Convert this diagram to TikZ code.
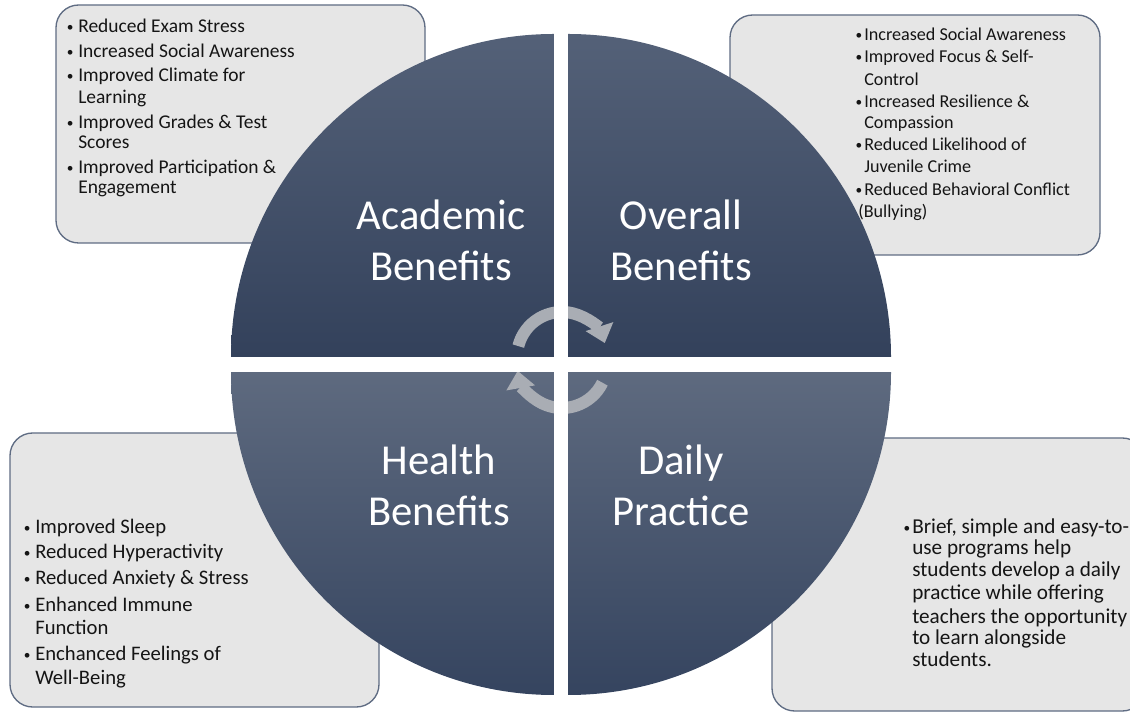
\documentclass[tikz,border=0pt]{standalone}
\usepackage{fontspec}
\setmainfont{Carlito}
\usetikzlibrary{arrows.meta}
\definecolor{boxfill}{HTML}{E6E6E6}
\definecolor{boxline}{HTML}{5F6C83}
\definecolor{qtop}{HTML}{546178}
\definecolor{qbot}{HTML}{33415B}
\definecolor{qtopL}{HTML}{5E6A7F}
\definecolor{qbotL}{HTML}{35445F}
\definecolor{arrowgray}{HTML}{A9ADB4}
\definecolor{txt}{HTML}{151515}
\newcommand\smallbul{\raisebox{1.3pt}{\fontsize{10}{10}\selectfont\textbullet}}
\newcommand\bua{\llap{\smallbul\hspace{3.5pt}}}
\newcommand\bub{\llap{\smallbul\hspace{1.5pt}}}
\begin{document}
\begin{tikzpicture}[x=0.75pt,y=0.75pt,
  infobox/.style={fill=boxfill,draw=boxline,line width=1pt,rounded corners=17pt},
  cyclearrow/.style={draw=arrowgray,line width=9pt,-{Triangle[width=21pt,length=13pt]}},
  title/.style={text=white,align=center,inner sep=0pt,font=\fontsize{32}{38.2}\selectfont},
  bl/.style={anchor=base west,inner sep=0pt,text=txt},
  ftl/.style={font=\fontsize{14.6}{17}\selectfont},
  ftr/.style={font=\fontsize{13.6}{16}\selectfont},
  fbl/.style={font=\fontsize{15.5}{18}\selectfont},
  fbr/.style={font=\fontsize{15.9}{18}\selectfont}]
\useasboundingbox (0,0) rectangle (1130,713);
% info boxes
\draw[infobox] (56,470) rectangle (425,708);
\draw[infobox] (730,458) rectangle (1100,698);
\draw[infobox] (10,6) rectangle (379,280);
\draw[infobox] (772,2) rectangle (1145,275);
% quadrants
\shade[top color=qtop,bottom color=qbot] (554,356) -- (231,356) arc[start angle=180,end angle=90,radius=323] -- cycle;
\shade[top color=qtop,bottom color=qbot] (568,356) -- (568,679) arc[start angle=90,end angle=0,radius=323] -- cycle;
\shade[top color=qtopL,bottom color=qbotL] (554,341) -- (231,341) arc[start angle=180,end angle=270,radius=323] -- cycle;
\shade[top color=qtopL,bottom color=qbotL] (568,341) -- (568,18) arc[start angle=270,end angle=360,radius=323] -- cycle;
% cycle arrows
\coordinate (ca) at (562,356);
\coordinate (cb) at (562,350);
\draw[cyclearrow] ([shift={(166:45)}]ca) arc[start angle=166,end angle=18,radius=45];
\draw[cyclearrow] ([shift={(-26:45)}]cb) arc[start angle=-26,end angle=-170,radius=45];
% white gaps
\fill[white] (554,12) rectangle (568,702);
\fill[white] (225,341) rectangle (897,356);
% titles
\node[title] (acad) at (441,473) {Academic\\Benefits};
\node[title] (over) at (681,473) {Overall\\Benefits};
\node[title] (heal) at (439,228) {Health\\Benefits};
\node[title] (dail) at (681,228) {Daily\\Practice};
% top-left list
\node[bl,ftl] (tl1) at (78,680) {\bua Reduced Exam Stress};
\node[bl,ftl] (tl2) at (78,655) {\bua Increased Social Awareness};
\node[bl,ftl] (tl3) at (78,631) {\bua Improved Climate for};
\node[bl,ftl] (tl4) at (78,609) {Learning};
\node[bl,ftl] (tl5) at (78,584) {\bua Improved Grades \& Test};
\node[bl,ftl] (tl6) at (78,564) {Scores};
\node[bl,ftl] (tl7) at (78,539) {\bua Improved Participation \&};
\node[bl,ftl] (tl8) at (78,519) {Engagement};
% top-right list
\node[bl,ftr] (tr1) at (864,672) {\bub Increased Social Awareness};
\node[bl,ftr] (tr2) at (864,650) {\bub Improved Focus \& Self-};
\node[bl,ftr] (tr3) at (864,627) {Control};
\node[bl,ftr] (tr4) at (864,605) {\bub Increased Resilience \&};
\node[bl,ftr] (tr5) at (864,584) {Compassion};
\node[bl,ftr] (tr6) at (864,562) {\bub Reduced Likelihood of};
\node[bl,ftr] (tr7) at (864,540) {Juvenile Crime};
\node[bl,ftr] (tr8) at (864,517) {\bub Reduced Behavioral Conflict};
\node[bl,ftr] (tr9) at (858,495) {(Bullying)};
% bottom-left list
\node[bl,fbl] (bl1) at (35,179) {\bua Improved Sleep};
\node[bl,fbl] (bl2) at (35,154) {\bua Reduced Hyperactivity};
\node[bl,fbl] (bl3) at (35,128) {\bua Reduced Anxiety \& Stress};
\node[bl,fbl] (bl4) at (35,101) {\bua Enhanced Immune};
\node[bl,fbl] (bl5) at (35,78) {Function};
\node[bl,fbl] (bl6) at (35,52) {\bua Enchanced Feelings of};
\node[bl,fbl] (bl7) at (35,28) {Well-Being};
% bottom-right text
\node[bl,fbr] (br1) at (912,179) {\bub Brief, simple and easy-to-};
\node[bl,fbr] (br2) at (912,158) {use programs help};
\node[bl,fbr] (br3) at (912,136) {students develop a daily};
\node[bl,fbr] (br4) at (912,113) {practice while offering};
\node[bl,fbr] (br5) at (912,89) {teachers the opportunity};
\node[bl,fbr] (br6) at (912,68) {to learn alongside};
\node[bl,fbr] (br7) at (912,46) {students.};
\end{tikzpicture}
\end{document}
